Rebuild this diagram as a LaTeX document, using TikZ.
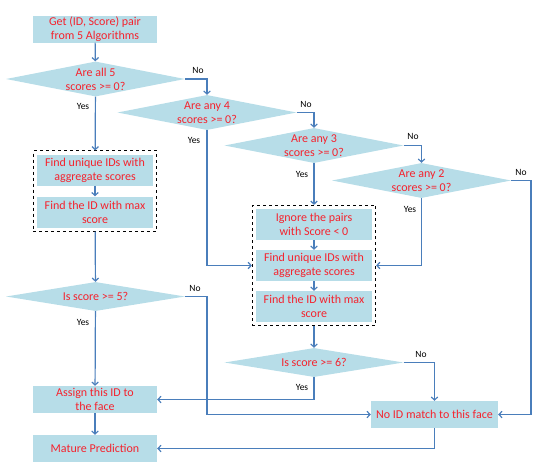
\documentclass[tikz,border=0pt]{standalone}
\usepackage{fontspec}
\setmainfont{Carlito}
\usetikzlibrary{arrows.meta, positioning, shapes.geometric, fit}
\definecolor{fcFill}{HTML}{B7DDE8}
\definecolor{fcLine}{HTML}{4A7EBB}
\definecolor{fcText}{HTML}{F5222D}

\begin{document}
\begin{tikzpicture}[
  x=1pt, y=-1pt,
  step box/.style={
    fill=fcFill,
    text=fcText,
    minimum width=124pt,
    minimum height=27pt,
    align=center,
    inner sep=1pt,
    font=\fontsize{12}{14}\selectfont
  },
  inner box/.style={step box, minimum width=116pt, minimum height=31pt},
  decision/.style={
    diamond,
    fill=fcFill,
    text=fcText,
    aspect=5.2,
    inner sep=0pt,
    minimum width=179pt,
    minimum height=35pt,
    align=center,
    font=\fontsize{12}{14}\selectfont
  },
  group/.style={draw=black, dashed, thick, inner sep=3.5pt},
  arrow/.style={-{Straight Barb[length=3pt,width=6.5pt]}, line width=1.2pt, draw=fcLine},
  lbl/.style={font=\fontsize{9.5}{11}\selectfont, text=black, inner sep=0pt}
]
\useasboundingbox (0,0) rectangle (550,472);

% left branch
\node[step box] (get) at (95,29) {Get (ID, Score) pair\\from 5 Algorithms};
\node[decision] (all5) at (95.5,79) {Are all 5\\scores >= 0?};
\node[inner box] (uniq1) at (95,170) {Find unique IDs with\\aggregate scores};
\node[inner box] (max1) at (95,212) {Find the ID with max\\score};
\node[group, fit=(uniq1)(max1)] (grp1) {};
\node[decision, minimum height=29pt] (ge5) at (95.5,296.5) {Is score >= 5?};
\node[step box] (assign) at (95,399.5) {Assign this ID to\\the face};
\node[step box] (mature) at (95,448.5) {Mature Prediction};

% cascade of checks
\node[decision] (any4) at (207,112.5) {Are any 4\\scores >= 0?};
\node[decision] (any3) at (314,145.5) {Are any 3\\scores >= 0?};
\node[decision] (any2) at (421.5,180.5) {Are any 2\\scores >= 0?};

% right branch
\node[inner box] (ignore) at (314,224.5) {Ignore the pairs\\with Score < 0};
\node[inner box] (uniq2) at (314,265.5) {Find unique IDs with\\aggregate scores};
\node[inner box] (max2) at (314,306.5) {Find the ID with max\\score};
\node[group, fit=(ignore)(uniq2)(max2)] (grp2) {};
\node[decision, minimum height=29pt] (ge6) at (314,362.5) {Is score >= 6?};
\node[step box, minimum width=127pt] (nomatch) at (434.5,414.5) {No ID match to this face};

% corner points
\coordinate (c4) at (any4.north |- all5.east);
\coordinate (c3) at (any3.north |- any4.east);
\coordinate (c2) at (any2.north |- any3.east);
\coordinate (cr) at (531,180.5);
\coordinate (c5) at (207,296.5);
\coordinate (c6) at (nomatch.north |- ge6.east);

\draw[arrow] (get) -- (all5);
\draw[arrow] (all5) -- (grp1);
\draw[arrow] (uniq1) -- (max1);
\draw[arrow] (grp1) -- (ge5);
\draw[arrow] (ge5) -- (assign);
\draw[arrow] (assign) -- (mature);

\draw[arrow] (all5.east) -- (c4) -- (any4.north);
\draw[arrow] (any4.east) -- (c3) -- (any3.north);
\draw[arrow] (any3.east) -- (c2) -- (any2.north);
\draw[arrow] (any4.south) |- (grp2.west |- uniq2);
\draw[arrow] (any3.south) -- (grp2.north);
\draw[arrow] (any2.south) |- (grp2.east |- uniq2);
\draw[arrow] (any2.east) -- (cr) |- (nomatch.east);

\draw[arrow] (ignore) -- (uniq2);
\draw[arrow] (uniq2) -- (max2);
\draw[arrow] (grp2) -- (ge6);
\draw[arrow] (ge6.east) -- (c6) -- (nomatch.north);
\draw[arrow] (ge6.south) |- (assign.east);
\draw[arrow] (ge5.east) -- (c5) |- (nomatch.west);
\draw[arrow] (nomatch.south) |- (mature.east);

% yes / no labels
\node[lbl] (n1) at (198,70) {No};
\node[lbl] (y1) at (83,106) {Yes};
\node[lbl] (y2) at (194,140) {Yes};
\node[lbl] (n2) at (306,104) {No};
\node[lbl] (y3) at (302,174) {Yes};
\node[lbl] (n3) at (413,136) {No};
\node[lbl] (n4) at (521,172) {No};
\node[lbl] (y4) at (410,209) {Yes};
\node[lbl] (n5) at (195,288) {No};
\node[lbl] (y5) at (83,322) {Yes};
\node[lbl] (n6) at (421,354) {No};
\node[lbl] (y6) at (302,387) {Yes};
\end{tikzpicture}
\end{document}
